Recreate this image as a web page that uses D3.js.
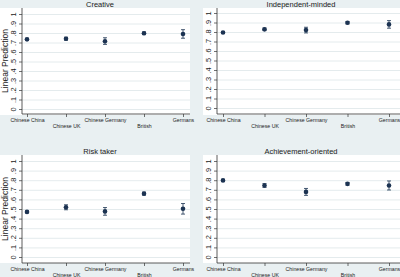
<!DOCTYPE html>
<html>
<head>
<meta charset="utf-8">
<script src="https://cdn.jsdelivr.net/npm/d3@7"></script>
<style>
  html, body { margin: 0; padding: 0; background: #e9f0f2; }
  svg { display: block; font-family: "Liberation Sans", Arial, sans-serif; }
</style>
</head>
<body>
<div id="chart"></div>
<script>
// Stata-style 2x2 margins plot: predicted value with 95% CI per group

const CATEGORIES = ["Chinese China", "Chinese UK", "Chinese Germany", "British", "Germans"];
const TITLES     = ["Creative", "Independent-minded", "Risk taker", "Achievement-oriented"];
const Y_TICKS    = [0, .1, .2, .3, .4, .5, .6, .7, .8, .9, 1];
const Y_LABELS   = ["0", ".1", ".2", ".3", ".4", ".5", ".6", ".7", ".8", ".9", "1"];

// point estimates
const CREATIVE    = [0.733, 0.740, 0.713, 0.797, 0.790];
const INDEPENDENT = [0.795, 0.828, 0.820, 0.898, 0.880];
const RISK        = [0.470, 0.518, 0.475, 0.660, 0.502];
const ACHIEVE     = [0.798, 0.745, 0.678, 0.762, 0.745];
// CI lower / upper
const CREATIVE_LO    = [0.722, 0.724, 0.680, 0.783, 0.745];
const CREATIVE_HI    = [0.744, 0.756, 0.750, 0.811, 0.835];
const INDEPENDENT_LO = [0.785, 0.815, 0.790, 0.886, 0.840];
const INDEPENDENT_HI = [0.805, 0.841, 0.850, 0.910, 0.920];
const RISK_LO        = [0.460, 0.492, 0.435, 0.645, 0.447];
const RISK_HI        = [0.480, 0.544, 0.515, 0.675, 0.557];
const ACHIEVE_LO     = [0.788, 0.725, 0.642, 0.748, 0.698];
const ACHIEVE_HI     = [0.808, 0.765, 0.714, 0.776, 0.792];

const SERIES = [CREATIVE, INDEPENDENT, RISK, ACHIEVE];
const LOWER  = [CREATIVE_LO, INDEPENDENT_LO, RISK_LO, ACHIEVE_LO];
const UPPER  = [CREATIVE_HI, INDEPENDENT_HI, RISK_HI, ACHIEVE_HI];

const W = 400, H = 277;
const NAVY = "#1c3352";

const svg = d3.select("#chart").append("svg").attr("width", W).attr("height", H);
svg.append("rect").attr("width", W).attr("height", H).attr("fill", "#e9f0f2");

// panel boxes: white area, axis positions, first/last category position
const panels = [
  {bx:0,   by:8,   bw:190, bh:107, ax:22,  ar:190, x0:27,  x1:183, yTop:14,  y0:109, axY:114, tx:100, ty:7,   ytitle:true},
  {bx:203, by:8,   bw:197, bh:107, ax:217, ar:400, x0:223, x1:389, yTop:13,  y0:108, axY:114, tx:301, ty:7,   ytitle:false},
  {bx:0,   by:155, bw:190, bh:108, ax:22,  ar:190, x0:27,  x1:183, yTop:161, y0:257, axY:263, tx:100, ty:154, ytitle:true},
  {bx:203, by:155, bw:197, bh:108, ax:217, ar:400, x0:223, x1:389, yTop:161, y0:257, axY:263, tx:301, ty:154, ytitle:false}
];

panels.forEach((p, i) => {
  const g = svg.append("g");

  g.append("rect").attr("x", p.bx).attr("y", p.by).attr("width", p.bw).attr("height", p.bh)
    .attr("fill", "#ffffff");

  const x = d3.scalePoint().domain(CATEGORIES).range([p.x0, p.x1]);
  const y = d3.scaleLinear().domain([0, 1]).range([p.y0, p.yTop]);

  // grid
  g.append("g")
    .attr("transform", `translate(${p.ax},0)`)
    .call(d3.axisLeft(y).tickValues(Y_TICKS).tickSize(-(p.ar - p.ax)).tickFormat(""))
    .call(a => a.selectAll(".tick line").attr("stroke", "#dde6e9").attr("stroke-width", 0.8))
    .call(a => a.select(".domain").remove());

  // y axis
  g.append("g")
    .attr("transform", `translate(${p.ax},0)`)
    .call(d3.axisLeft(y).tickValues(Y_TICKS).tickSize(3).tickPadding(3)
      .tickFormat((d, k) => Y_LABELS[k]))
    .call(a => a.select(".domain").attr("d", `M0,${p.by}V${p.axY}`).attr("stroke", "#333").attr("stroke-width", 0.8))
    .call(a => a.selectAll(".tick line").attr("stroke", "#333").attr("stroke-width", 0.7))
    .call(a => a.selectAll(".tick text")
      .attr("font-size", 7.4).attr("fill", "#222")
      .attr("transform", "rotate(-90)")
      .attr("x", 0).attr("y", -6).attr("dy", 0)
      .attr("text-anchor", "middle"));

  // x axis
  g.append("g")
    .attr("transform", `translate(0,${p.axY})`)
    .call(d3.axisBottom(x).tickSize(3).tickPadding(2))
    .call(a => a.select(".domain").attr("d", `M${p.ax},0H${p.ar}`).attr("stroke", "#333").attr("stroke-width", 0.8))
    .call(a => a.selectAll(".tick line").attr("stroke", "#333").attr("stroke-width", 0.7))
    .call(a => a.selectAll(".tick text")
      .attr("font-size", 5.2).attr("fill", "#222")
      .attr("y", (d, k) => k % 2 ? 10 : 4.5).attr("dy", "0.71em"));

  // CI bars
  const cap = 2;
  const ci = g.append("g").attr("stroke", NAVY).attr("stroke-width", 0.8);
  CATEGORIES.forEach((c, k) => {
    const cx = x(c);
    ci.append("line").attr("x1", cx).attr("x2", cx).attr("y1", y(LOWER[i][k])).attr("y2", y(UPPER[i][k]));
    ci.append("line").attr("x1", cx - cap).attr("x2", cx + cap).attr("y1", y(LOWER[i][k])).attr("y2", y(LOWER[i][k]));
    ci.append("line").attr("x1", cx - cap).attr("x2", cx + cap).attr("y1", y(UPPER[i][k])).attr("y2", y(UPPER[i][k]));
  });

  // markers
  g.append("g").selectAll("circle")
    .data(SERIES[i]).join("circle")
      .attr("cx", (d, k) => x(CATEGORIES[k]))
      .attr("cy", d => y(d))
      .attr("r", 2.3)
      .attr("fill", NAVY);

  // title
  svg.append("text")
    .attr("x", p.tx).attr("y", p.ty)
    .attr("text-anchor", "middle")
    .attr("font-size", 7.5).attr("fill", "#222")
    .text(TITLES[i]);

  if (p.ytitle) {
    svg.append("text")
      .attr("transform", `translate(8,${(p.by + p.axY) / 2}) rotate(-90)`)
      .attr("text-anchor", "middle")
      .attr("font-size", 8.5).attr("fill", "#222")
      .text("Linear Prediction");
  }
});
</script>
</body>
</html>
